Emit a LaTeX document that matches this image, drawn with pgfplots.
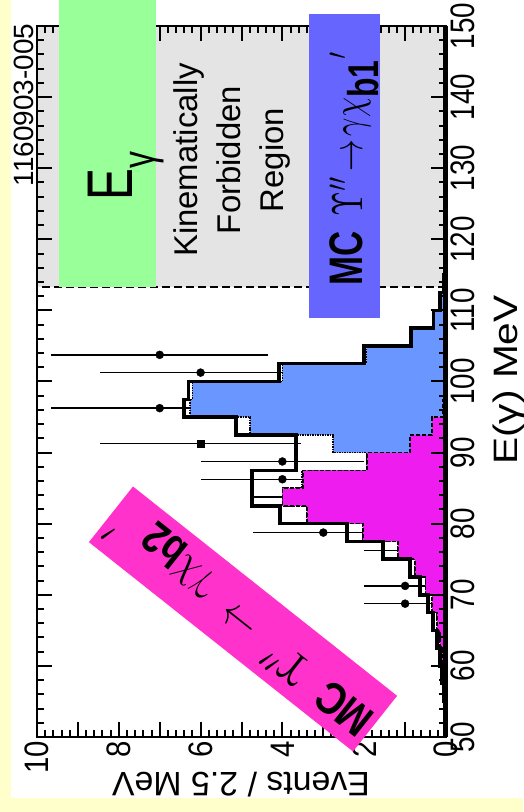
\documentclass[border=0pt]{standalone}
\usepackage{graphicx}
\usepackage{pgfplots}
\pgfplotsset{compat=1.18}
\usetikzlibrary{backgrounds}
\usepackage{fontspec}
\setmainfont{Liberation Sans}
\definecolor{bgyellow}{HTML}{FFFFCC}
\definecolor{grayreg}{HTML}{E4E4E4}
\definecolor{greenbox}{HTML}{99FF99}
\definecolor{bluebox}{HTML}{6666FF}
\definecolor{magbox}{HTML}{FF33CC}
\definecolor{bluehist}{HTML}{6A96FF}
\definecolor{maghist}{HTML}{EE1CEE}
\newcommand\mt[1]{\scalebox{3.2}{\fontsize{10}{12}\selectfont$#1$}}
\newcommand\mtb[1]{\scalebox{3.7}{\fontsize{10}{12}\selectfont$#1$}}
\begin{document}
\begin{tikzpicture}
\begin{axis}[
  x={(0bp,7.11bp)}, y={(-40.9bp,0bp)},
  xmin=50, xmax=150, ymin=0, ymax=10,
  axis on top, clip=false, clip marker paths=true,
  axis line style={line width=2.5bp},
  tick style={line width=2bp, black},
  tick align=inside,
  xtick={50,60,...,150}, minor x tick num=4,
  ytick={0,1,...,10}, yticklabels={0,,2,,4,,6,,8,,10}, minor y tick num=4,
  major tick length=15bp, minor tick length=7bp,
  xticklabel pos=upper, yticklabel pos=upper,
  /pgf/number format/assume math mode=true,
  scaled ticks=false,
  xticklabel style={font=\fontsize{31}{31}\selectfont, rotate=90, anchor=north, xscale=0.9, yscale=1.1, inner sep=4bp},
  yticklabel style={font=\fontsize{31}{31}\selectfont, rotate=90, anchor=east, xscale=0.95, yscale=1.1, inner sep=4bp},
]
% page corners in axis coordinates
\coordinate (pTL) at (axis cs:153.656,10.905);
\coordinate (pBR) at (axis cs:39.451,-1.8826);
\coordinate (wTL) at (axis cs:153.656,10.636);
\coordinate (wBR) at (axis cs:41.42,-1.8826);

% kinematically forbidden region
\fill[grayreg] (axis cs:113.3,0) rectangle (axis cs:150,10);

% data points
\addplot[only marks, mark=*, mark size=4bp, black,
  error bars/.cd, y dir=both, y explicit, error mark=none,
  error bar style={line width=1.5bp, black}]
  coordinates {
  (68.75,1) +- (0,1)
  (71.25,1) +- (0,1)
  (76.25,1) +- (0,1)
  (78.75,3) +- (0,1.73)
  (81.25,2) +- (0,1.41)
  (83.75,3) +- (0,1.73)
  (86.25,4) +- (0,2)
  (88.75,4) +- (0,2)
  (93.75,3) +- (0,1.73)
  (96.25,7) +- (0,2.65)
  (101.25,6) +- (0,2.45)
  (103.75,7) +- (0,2.65)
};
\addplot[only marks, mark=square*, mark size=3.5bp, black,
  error bars/.cd, y dir=both, y explicit, error mark=none,
  error bar style={line width=1.5bp, black}]
  coordinates {(91.25,6) +- (0,2.45)};

% MC chi_b1' + chi_b2' (stacked sum)
\addplot[const plot, fill=bluehist, draw=black, line width=1.5bp, densely dotted]
  coordinates {
  (55,0) (57.5,0.02) (60,0.05) (62.5,0.1) (65,0.15) (67.5,0.22) (70,0.34)
  (72.5,0.5) (75,0.76) (77.5,1.17) (80,2.03) (82.5,3.4) (85,4.0) (87.5,3.52)
  (90,1.95) (92.5,2.76) (95,4.79) (97.5,6.26) (100,6.2) (102.5,4.0)
  (105,1.95) (107.5,0.82) (110,0.28) (112.5,0.12) (115,0.05) (117.5,0.02) (120,0)
  } \closedcycle;

% MC chi_b2'
\addplot[const plot, fill=maghist, draw=black, line width=1.5bp, dash pattern=on 4bp off 2bp]
  coordinates {
  (55,0) (57.5,0.02) (60,0.05) (62.5,0.1) (65,0.15) (67.5,0.22) (70,0.34)
  (72.5,0.5) (75,0.76) (77.5,1.17) (80,2.03) (82.5,3.4) (85,4.0) (87.5,3.5)
  (90,1.93) (92.5,0.88) (95,0.34) (97.5,0.07) (100,0.03) (102.5,0) (105,0)
  } \closedcycle;

% total fit
\addplot[const plot, black, line width=3.5bp]
  coordinates {
  (52.5,0) (55,0.02) (57.5,0.05) (60,0.1) (62.5,0.15) (65,0.22) (67.5,0.32)
  (70,0.44) (72.5,0.64) (75,0.88) (77.5,1.54) (80,2.42) (82.5,4.06) (85,4.74)
  (87.5,4.74) (90,3.67) (92.5,3.67) (95,5.13) (97.5,6.4) (100,6.3) (102.5,4.08)
  (105,2.0) (107.5,0.86) (110,0.3) (112.5,0.15) (115,0.05) (117.5,0.02) (120,0)
  };

% kinematic limit
\draw[black, line width=2bp, dash pattern=on 8bp off 4bp] (axis cs:113.3,0) -- (axis cs:113.3,10);
\end{axis}

\begin{scope}[on background layer]
  \fill[bgyellow] (pTL) rectangle (pBR);
  \fill[white] (wTL) rectangle (wBR);
\end{scope}

\begin{scope}[shift={(pTL)}, x=1bp, y=-1bp]
  \draw[line width=5bp] (446,26) -- (446,737);
  % green box
  \fill[greenbox] (59,0) rectangle (156,287);
  \node[rotate=90, yscale=1.35, anchor=base, inner sep=0pt, font=\fontsize{48}{48}\selectfont]
    at (133,176) {E\raisebox{-16bp}{\fontsize{34}{34}\selectfont γ}};
  % forbidden region text
  \node[rotate=90, align=center, font=\fontsize{33}{43}\selectfont] at (232,160)
    {Kinematically\\Forbidden\\Region};
  % blue box
  \fill[bluebox] (309,14) rectangle (380,318);
  \node[rotate=90, yscale=1.35, anchor=base, inner sep=0pt, font=\fontsize{35}{35}\selectfont]
    at (362,168) {\textbf{MC}\, \mt{\Upsilon''\!\rightarrow\!\gamma\chi_{\textbf{b1}}{}'}};
  % id
  \node[rotate=90, anchor=base, inner sep=0pt, font=\fontsize{28}{28}\selectfont] at (33,105) {1160903-005};
  % axis labels
  \node[rotate=90, xscale=1.2, anchor=base, inner sep=0pt, font=\fontsize{34}{34}\selectfont] at (517,380) {E(γ) MeV};
  \node[rotate=180, anchor=base, inner sep=0pt, font=\fontsize{34}{34}\selectfont] at (241,773) {Events / 2.5 MeV};
  % magenta box
  \node[rotate=141.6, fill=magbox, minimum width=337bp, minimum height=71bp, inner sep=0pt,
        font=\fontsize{38}{38}\selectfont] at (243,619)
    {\scalebox{1}[1.2]{\textbf{MC}\; \mtb{\Upsilon''}\; \mtb{\rightarrow}\; \mtb{\gamma\chi_{\textbf{b2}}}\,\, \mtb{'}}};
\end{scope}

\pgfresetboundingbox
\path[use as bounding box] (pTL) rectangle (pBR);
\end{tikzpicture}
\end{document}
